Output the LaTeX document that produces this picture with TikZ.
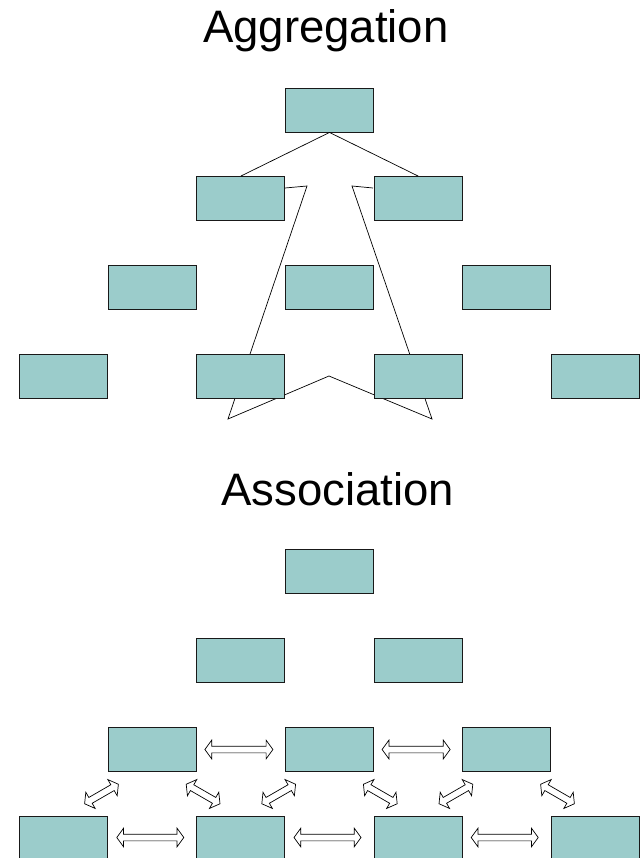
\documentclass[tikz,border=0pt]{standalone}
\usepackage{fontspec}
\setmainfont{Liberation Sans}
\usetikzlibrary{shapes.arrows,calc}
\definecolor{boxfill}{HTML}{9BCCCB}
\begin{document}
\begin{tikzpicture}[x=1pt,y=-1pt,
  box/.style={draw=black!90, line width=0.9pt, fill=boxfill, minimum width=88pt, minimum height=44pt, inner sep=0pt},
  dbl/.style={double arrow, draw=black, line width=0.7pt, fill=white, inner xsep=0pt, inner ysep=3pt,
    double arrow head extend=6pt, double arrow tip angle=108, minimum height=#1},
  ttl/.style={font=\fontsize{45.5}{54}\selectfont, inner sep=0pt, anchor=base west},
  link/.style={draw=black, line width=0.7pt}]
\useasboundingbox (0,0) rectangle (644,858);
\fill[white] (0,0) rectangle (644,858);

% ---------- Aggregation ----------
\node[ttl] (t1) at (203,43) {Aggregation};

% polygon behind the boxes
\coordinate (p1) at (285,188);
\coordinate (p2) at (307,186);
\coordinate (p3) at (228,419);
\coordinate (p4) at (329,376);
\coordinate (p5) at (432,419);
\coordinate (p6) at (352,186);
\coordinate (p7) at (373,188);
\draw[link] (p1) -- (p2) -- (p3) -- (p4) -- (p5) -- (p6) -- (p7);

\node[box] (gT) at (329.5,110) {};
\node[box] (gL2) at (240.9,198.5) {};
\node[box] (gR2) at (418.1,198.5) {};
\node[box] (g3a) at (152.3,287) {};
\node[box] (g3b) at (329.5,287) {};
\node[box] (g3c) at (506.7,287) {};
\node[box] (g4a) at (63.7,376) {};
\node[box] (g4b) at (240.9,376) {};
\node[box] (g4c) at (418.1,376) {};
\node[box] (g4d) at (595.3,376) {};

\draw[link] (gT.south) -- (gL2.north);
\draw[link] (gT.south) -- (gR2.north);

% ---------- Association ----------
\node[ttl] (t2) at (221,505) {Association};

\node[box] (sT) at (329.5,571.5) {};
\node[box] (sL2) at (240.9,660.5) {};
\node[box] (sR2) at (418.1,660.5) {};
\node[box] (s3a) at (152.3,749.5) {};
\node[box] (s3b) at (329.5,749.5) {};
\node[box] (s3c) at (506.7,749.5) {};
\node[box] (s4a) at (63.7,838.5) {};
\node[box] (s4b) at (240.9,838.5) {};
\node[box] (s4c) at (418.1,838.5) {};
\node[box] (s4d) at (595.3,838.5) {};

% horizontal double arrows
\node[dbl=68pt] (h1) at ($(s3a)!0.5!(s3b)+(-2,0)$) {};
\node[dbl=68pt] (h2) at ($(s3b)!0.5!(s3c)+(-2,0)$) {};
\node[dbl=67pt] (h3) at ($(s4a)!0.5!(s4b)+(-2,-1)$) {};
\node[dbl=67pt] (h4) at ($(s4b)!0.5!(s4c)+(-2,-1)$) {};
\node[dbl=67pt] (h5) at ($(s4c)!0.5!(s4d)+(-2,-1)$) {};

% diagonal double arrows
\node[dbl=39pt, rotate=30]  (d1) at ($(s3a.south west)!0.5!(s4a.north east)+(-6.5,0)$) {};
\node[dbl=39pt, rotate=-30] (d2) at ($(s3a.south east)!0.5!(s4b.north west)+(6.5,0)$) {};
\node[dbl=39pt, rotate=30]  (d3) at ($(s3b.south west)!0.5!(s4b.north east)+(-6.5,0)$) {};
\node[dbl=39pt, rotate=-30] (d4) at ($(s3b.south east)!0.5!(s4c.north west)+(6.5,0)$) {};
\node[dbl=39pt, rotate=30]  (d5) at ($(s3c.south west)!0.5!(s4c.north east)+(-6.5,0)$) {};
\node[dbl=39pt, rotate=-30] (d6) at ($(s3c.south east)!0.5!(s4d.north west)+(6.5,0)$) {};
\end{tikzpicture}
\end{document}
